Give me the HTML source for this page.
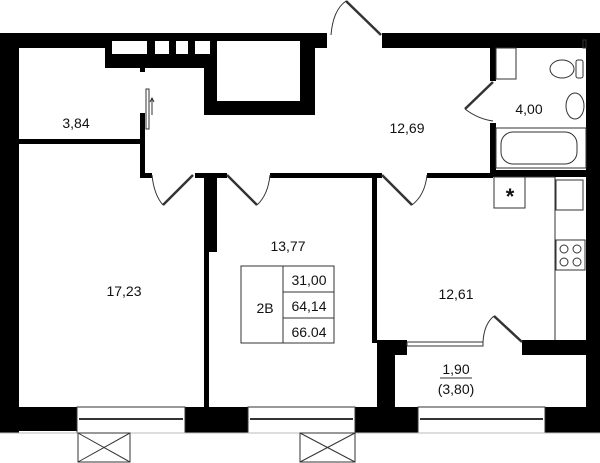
<!DOCTYPE html>
<html><head><meta charset="utf-8"><style>
html,body{margin:0;padding:0;background:#fff;width:600px;height:463px;overflow:hidden}
svg{display:block}
text{font-family:"Liberation Sans",sans-serif;font-size:14px;fill:#111}
</style></head><body>
<svg width="600" height="463" viewBox="0 0 600 463" xmlns="http://www.w3.org/2000/svg">
<g fill="#000">
<!-- outer top walls -->
<rect x="0" y="33" width="105" height="15"/>
<rect x="105" y="33" width="112" height="35"/>
<rect x="204" y="33" width="123" height="15"/>
<rect x="204" y="33" width="13" height="82"/>
<rect x="204" y="101" width="111" height="14"/>
<rect x="300" y="33" width="15" height="82"/>
<rect x="382" y="33" width="218" height="15"/>
<rect x="586" y="33" width="14" height="374"/>
<!-- left wall -->
<rect x="0" y="33" width="19" height="400"/>
<!-- 3.84 partitions -->
<rect x="19" y="139" width="126" height="5"/>
<rect x="140" y="113" width="5" height="65"/>
<rect x="140" y="68" width="5" height="4"/>
<!-- hall bottom -->
<rect x="140" y="173" width="12" height="5"/>
<rect x="195" y="173" width="32" height="5"/>
<rect x="270" y="173" width="112" height="5"/>
<rect x="427" y="173" width="66" height="5"/>
<!-- bath walls -->
<rect x="490" y="48" width="6" height="33"/>
<rect x="490" y="123" width="6" height="54"/>
<rect x="490" y="170" width="96" height="7"/>
<!-- room divisions -->
<rect x="204" y="173" width="13" height="79"/>
<rect x="204" y="173" width="5" height="234"/>
<rect x="372" y="173" width="5" height="170"/>
<!-- loggia walls -->
<rect x="377" y="340" width="30" height="15"/>
<rect x="377" y="340" width="18" height="67"/>
<rect x="522" y="340" width="78" height="15"/>
<!-- bottom walls -->
<rect x="0" y="407" width="77" height="24"/>
<rect x="185" y="407" width="63" height="26"/>
<rect x="355" y="407" width="63" height="26"/>
<rect x="545" y="407" width="55" height="26"/>
</g>
<!-- top windows in block -->
<g fill="#fff">
<rect x="112" y="41" width="35" height="13"/><rect x="155" y="41" width="14" height="13"/>
<rect x="176" y="41" width="12" height="13"/><rect x="195" y="41" width="15" height="13"/>
<rect x="217" y="41" width="83" height="60"/>
</g>
<g fill="none" stroke="#333" stroke-width="1">
<!-- bottom windows -->
<rect x="77" y="407" width="108" height="26"/>
<line x1="79" y1="419" x2="183" y2="419" stroke-width="2"/>
<rect x="248" y="407" width="107" height="26"/>
<line x1="250" y1="419" x2="353" y2="419" stroke-width="2"/>
<rect x="418" y="407" width="127" height="26"/>
<line x1="420" y1="419" x2="543" y2="419" stroke-width="2"/>
<line x1="0" y1="433" x2="600" y2="433" stroke="#bbb"/>
<!-- crossed boxes -->
<rect x="78" y="433" width="52" height="29"/><line x1="78" y1="433" x2="130" y2="462"/><line x1="130" y1="433" x2="78" y2="462"/>
<rect x="300" y="433" width="55" height="29"/><line x1="300" y1="433" x2="355" y2="462"/><line x1="355" y1="433" x2="300" y2="462"/>
<!-- balcony glass -->
<rect x="407" y="342" width="76" height="4"/>
<!-- doors -->
<line x1="381" y1="35" x2="346" y2="1" stroke-width="2.5"/><path d="M331 35 Q333 10 346 1"/>
<line x1="193" y1="175" x2="163" y2="205" stroke-width="2.5"/><path d="M152 175 Q154 195 163 205"/>
<line x1="227" y1="175" x2="257" y2="205" stroke-width="2.5"/><path d="M270 175 Q268 195 257 205"/>
<line x1="382" y1="175" x2="412" y2="205" stroke-width="2.5"/><path d="M427 175 Q425 195 412 205"/>
<line x1="493" y1="82" x2="465" y2="109" stroke-width="2.5"/><path d="M465 109 Q478 119 493 121"/>
<line x1="522" y1="342" x2="494" y2="316" stroke-width="2.5"/><path d="M483 342 Q484 324 494 316"/>
<rect x="146" y="89" width="3" height="40"/><path d="M152 115 V99 M150 102 L152 98 L154 102"/>
<!-- bath fixtures -->
<rect x="496" y="48" width="20" height="31"/>
<rect x="583" y="40" width="3" height="8"/>
<ellipse cx="562" cy="69" rx="12" ry="9"/><rect x="576" y="60" width="7" height="18" rx="2"/>
<ellipse cx="575" cy="106" rx="9" ry="13"/>
<rect x="496" y="128" width="90" height="40"/><rect x="501" y="132" width="76" height="32" rx="12"/>
<!-- kitchen -->
<rect x="494" y="177" width="31" height="31"/>
<line x1="525" y1="177" x2="555" y2="177"/><line x1="525" y1="177" x2="525" y2="208"/>
<line x1="555" y1="177" x2="555" y2="340"/>
<rect x="556" y="180" width="27" height="30"/>
<rect x="556" y="240" width="29" height="30"/>
<circle cx="564" cy="249" r="4"/><circle cx="577" cy="249" r="4"/><circle cx="564" cy="262" r="4"/><circle cx="577" cy="262" r="4"/>
<!-- info table -->
<rect x="241" y="266" width="93" height="77"/>
<line x1="283" y1="266" x2="283" y2="343"/>
<line x1="283" y1="292" x2="334" y2="292"/><line x1="283" y1="318" x2="334" y2="318"/>
<line x1="440" y1="378" x2="472" y2="378"/>
</g>
<text x="510" y="204" text-anchor="middle" style="font-size:22px;font-weight:bold">*</text>
<text x="76" y="128" text-anchor="middle">3,84</text>
<text x="407" y="133" text-anchor="middle">12,69</text>
<text x="529" y="114" text-anchor="middle">4,00</text>
<text x="124" y="296" text-anchor="middle">17,23</text>
<text x="288" y="251" text-anchor="middle">13,77</text>
<text x="265" y="313" text-anchor="middle">2В</text>
<text x="309" y="285" text-anchor="middle">31,00</text>
<text x="309" y="311" text-anchor="middle">64,14</text>
<text x="309" y="337" text-anchor="middle">66.04</text>
<text x="456" y="299" text-anchor="middle">12,61</text>
<text x="456" y="374" text-anchor="middle">1,90</text>
<text x="456" y="394" text-anchor="middle">(3,80)</text>
</svg>
</body></html>
